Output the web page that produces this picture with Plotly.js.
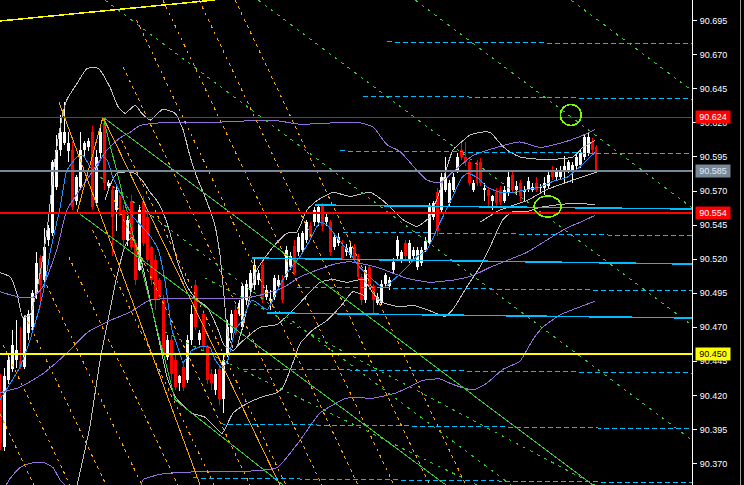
<!DOCTYPE html>
<html><head><meta charset="utf-8">
<script src="https://cdn.plot.ly/plotly-3.0.1.min.js"></script>
<style>html,body{margin:0;padding:0;background:#000;}#chart{width:744px;height:485px;}
#chart svg path{shape-rendering:crispEdges;}</style>
</head><body><div id="chart"></div>
<script>
// ---------- candle data (bar index 0..150) ----------
const opens = [90.419,90.382,90.431,90.439,90.446,90.445,90.441,90.466,90.470,90.495,
90.521,90.505,90.534,90.539,90.573,90.600,90.605,90.599,90.600,90.563,
90.573,90.600,90.602,90.613,90.561,90.598,90.620,90.574,90.571,90.556,
90.566,90.556,90.534,90.563,90.532,90.512,90.563,90.551,90.529,90.519,
90.505,90.490,90.448,90.461,90.446,90.429,90.441,90.431,90.461,90.501,
90.461,90.480,90.456,90.436,90.424,90.439,90.417,90.451,90.466,90.483,
90.480,90.470,90.490,90.497,90.501,90.505,90.516,90.492,90.489,90.492,
90.500,90.505,90.507,90.514,90.530,90.525,90.527,90.534,90.544,90.547,
90.547,90.560,90.547,90.547,90.529,90.532,90.530,90.525,90.523,90.529,
90.522,90.507,90.490,90.514,90.500,90.488,90.488,90.502,90.500,90.512,
90.522,90.519,90.532,90.519,90.522,90.514,90.517,90.527,90.532,90.551,
90.569,90.556,90.571,90.561,90.571,90.585,90.600,90.595,90.591,90.571,
90.591,90.591,90.571,90.571,90.563,90.569,90.571,90.563,90.569,90.582,
90.571,90.576,90.569,90.571,90.571,90.576,90.572,90.572,90.574,90.585,
90.580,90.580,90.585,90.585,90.584,90.588,90.589,90.595,90.598,90.606,
90.602];
const highs = [90.436,90.440,90.450,90.468,90.475,90.470,90.479,90.483,90.497,90.525,
90.523,90.543,90.545,90.593,90.611,90.626,90.635,90.613,90.607,90.582,
90.613,90.607,90.609,90.618,90.600,90.618,90.624,90.578,90.574,90.574,
90.567,90.560,90.552,90.567,90.534,90.560,90.566,90.555,90.530,90.523,
90.506,90.494,90.464,90.464,90.450,90.435,90.445,90.464,90.486,90.505,
90.468,90.483,90.457,90.439,90.439,90.442,90.450,90.475,90.483,90.486,
90.490,90.502,90.505,90.512,90.521,90.512,90.518,90.501,90.497,90.508,
90.508,90.508,90.530,90.525,90.534,90.539,90.541,90.549,90.547,90.558,
90.560,90.561,90.554,90.549,90.539,90.539,90.534,90.531,90.532,90.531,
90.524,90.509,90.515,90.516,90.502,90.495,90.505,90.510,90.507,90.521,
90.537,90.527,90.534,90.534,90.529,90.529,90.529,90.536,90.561,90.563,
90.572,90.583,90.595,90.578,90.583,90.598,90.605,90.606,90.593,90.578,
90.593,90.594,90.576,90.573,90.567,90.572,90.574,90.574,90.584,90.585,
90.577,90.578,90.574,90.580,90.576,90.580,90.575,90.580,90.585,90.588,
90.587,90.588,90.596,90.593,90.591,90.598,90.600,90.612,90.613,90.609,
90.604];
const lows = [90.380,90.379,90.428,90.437,90.440,90.439,90.439,90.461,90.468,90.491,
90.485,90.501,90.530,90.537,90.571,90.596,90.604,90.591,90.556,90.560,
90.571,90.596,90.599,90.556,90.559,90.594,90.571,90.571,90.522,90.541,
90.552,90.527,90.530,90.527,90.501,90.511,90.530,90.518,90.501,90.483,
90.490,90.450,90.446,90.431,90.424,90.423,90.423,90.429,90.457,90.468,
90.457,90.453,90.428,90.424,90.420,90.413,90.407,90.448,90.461,90.464,
90.478,90.468,90.486,90.495,90.497,90.501,90.488,90.490,90.483,90.490,
90.497,90.488,90.505,90.512,90.508,90.522,90.525,90.532,90.534,90.544,
90.544,90.541,90.544,90.522,90.527,90.530,90.519,90.522,90.521,90.517,
90.505,90.486,90.488,90.497,90.480,90.486,90.486,90.500,90.497,90.510,
90.519,90.517,90.519,90.517,90.519,90.512,90.515,90.525,90.530,90.549,
90.537,90.554,90.569,90.559,90.569,90.583,90.593,90.588,90.574,90.569,
90.574,90.574,90.563,90.559,90.556,90.559,90.560,90.561,90.566,90.569,
90.567,90.563,90.563,90.569,90.569,90.569,90.569,90.567,90.572,90.578,
90.577,90.578,90.576,90.583,90.576,90.585,90.587,90.593,90.596,90.598,
90.584];
const closes = [90.385,90.434,90.446,90.457,90.453,90.441,90.477,90.480,90.495,90.517,
90.501,90.529,90.543,90.591,90.600,90.613,90.613,90.605,90.558,90.580,
90.600,90.605,90.607,90.558,90.595,90.613,90.576,90.576,90.551,90.571,
90.554,90.534,90.549,90.529,90.505,90.556,90.532,90.519,90.505,90.490,
90.492,90.451,90.461,90.436,90.426,90.434,90.426,90.461,90.480,90.470,
90.466,90.456,90.431,90.429,90.436,90.417,90.446,90.470,90.480,90.466,
90.488,90.500,90.502,90.510,90.516,90.510,90.490,90.497,90.491,90.506,
90.505,90.490,90.527,90.522,90.510,90.536,90.539,90.547,90.536,90.556,
90.558,90.544,90.551,90.525,90.536,90.536,90.521,90.528,90.529,90.519,
90.507,90.490,90.512,90.500,90.490,90.492,90.502,90.508,90.505,90.518,
90.534,90.525,90.522,90.532,90.527,90.527,90.527,90.533,90.558,90.561,
90.541,90.580,90.580,90.576,90.580,90.595,90.595,90.591,90.576,90.576,
90.576,90.576,90.572,90.566,90.566,90.561,90.562,90.571,90.580,90.571,
90.574,90.566,90.571,90.577,90.573,90.571,90.573,90.576,90.582,90.580,
90.584,90.585,90.588,90.591,90.589,90.595,90.598,90.610,90.610,90.600,
90.585];

// ---------- indicator curves (x = bar index) ----------
const blueMaX = [-0.25,4.8,8.1,10.6,12.4,14.9,16.6,19.2,20.7,22.4,23.7,25.5,26.7,28.2,30.0,32.0,33.3,35.5,37.6,39.6,41.3,43.1,45.1,45.9,48.1,50.7,52.7,54.0,55.7,57.2,59.0,60.8,63.3,67.1,69.6,72.1,75.4,77.9,80.4,82.2,84.7,87.2,90.5,93.0,96.3,99.8,102.3,104.9,107.4,110.7,113.9,116.2,117.7,120.0,122.5,125.8,129.1,132.6,135.9,139.1,142.7,146.0,148.5,149.7];
const blueMaY = [90.417,90.441,90.468,90.495,90.525,90.558,90.585,90.595,90.596,90.588,90.584,90.595,90.593,90.580,90.569,90.558,90.551,90.544,90.537,90.527,90.505,90.468,90.451,90.444,90.453,90.456,90.455,90.446,90.440,90.446,90.468,90.475,90.490,90.483,90.497,90.510,90.522,90.534,90.547,90.545,90.536,90.527,90.514,90.507,90.499,90.507,90.514,90.522,90.527,90.547,90.566,90.580,90.583,90.580,90.573,90.569,90.569,90.571,90.573,90.577,90.580,90.588,90.595,90.598];

const purpleUpX = [-0.25,4.8,8.1,10.6,14.1,16.6,19.9,23.2,26.7,30.0,32.5,35.0,40.1,50.2,58.5,68.6,75.4,83.7,90.5,93.8,97.3,100.6,104.9,107.4,110.7,113.9,119.0,125.0,130.8,135.9,140.9,146.0,149.7];
const purpleUpY = [90.496,90.492,90.492,90.500,90.527,90.556,90.571,90.585,90.600,90.609,90.613,90.618,90.620,90.620,90.621,90.622,90.619,90.620,90.620,90.617,90.604,90.599,90.585,90.578,90.576,90.584,90.596,90.602,90.606,90.602,90.605,90.610,90.615];
const purpleMidX = [-0.25,4.8,10.6,16.6,21.7,27.5,32.5,37.6,43.9,50.2,58.5,62.8,67.1,71.1,75.4,79.7,83.7,88.0,94.8,102.3,108.1,114.9,119.0,123.3,127.6,132.6,137.6,142.7,146.0,149.7];
const purpleMidY = [90.422,90.426,90.436,90.451,90.466,90.475,90.481,90.490,90.491,90.491,90.491,90.492,90.495,90.499,90.507,90.512,90.516,90.518,90.514,90.506,90.503,90.505,90.508,90.514,90.519,90.525,90.534,90.543,90.547,90.552];
const purpleLowX = [0.5,2.3,4.8,7.3,10.6,13.1,14.9,19.7,30.0,35.0,35.8,40.1,50.2,60.2,69.6,75.4,80.4,87.2,93.8,99.8,106.4,110.7,113.9,119.0,122.5,126.5,130.8,134.1,136.6,140.9,146.0,149.7];
const purpleLowY = [90.350,90.359,90.367,90.370,90.371,90.367,90.358,90.345,90.345,90.352,90.358,90.362,90.364,90.364,90.367,90.387,90.407,90.418,90.418,90.422,90.431,90.432,90.428,90.424,90.429,90.439,90.445,90.461,90.470,90.479,90.485,90.489];

const greyUpX = [-0.25,2.3,4.0,5.5,7.3,9.3,11.6,13.6,15.4,16.6,19.2,21.7,24.5,27.5,29.5,31.3,33.8,35.5,37.6,40.8,43.9,45.9,47.6,49.4,51.4,53.9,55.2,56.2,57.2,58.5];
const greyUpY = [90.510,90.507,90.495,90.477,90.479,90.501,90.541,90.593,90.624,90.637,90.649,90.660,90.660,90.646,90.632,90.627,90.633,90.627,90.622,90.630,90.627,90.615,90.596,90.580,90.566,90.545,90.523,90.494,90.464,90.455];
const greyMidX = [26.2,27.5,29.2,31.8,33.8,35.8,37.6,39.3,41.3,43.1,44.4,46.9,49.4,51.9,54.5,56.2,58.5,60.2,65.3,69.6,75.4,80.4,83.7,87.2,91.3,93.8,96.3,100.6,103.9,107.4,111.9,113.9,117.5,120.7,123.3,126.5,129.1,132.6,135.9,144.2,149.7];
const greyMidY = [90.563,90.574,90.583,90.584,90.583,90.577,90.569,90.563,90.551,90.534,90.519,90.500,90.490,90.485,90.470,90.457,90.453,90.458,90.470,90.472,90.488,90.503,90.505,90.503,90.505,90.495,90.488,90.485,90.486,90.483,90.478,90.483,90.500,90.514,90.529,90.549,90.555,90.555,90.558,90.561,90.560];
const greyLowX = [19.2,22.4,25.0,27.5,29.2,31.3,33.0,35.0,37.6,40.1,42.1,44.4,48.1,51.4,53.9,55.7,58.5,62.0,66.0,69.6,71.1,73.6,75.4,78.6,82.2,85.5,88.7,91.8];
const greyLowY = [90.354,90.397,90.446,90.483,90.507,90.530,90.536,90.523,90.490,90.457,90.431,90.417,90.407,90.404,90.397,90.392,90.407,90.414,90.419,90.422,90.426,90.444,90.458,90.468,90.475,90.485,90.496,90.493];
const greyUp2X = [59.7,62.0,64.5,68.6,72.1,74.6,77.1,79.7,83.7,88.0,93.0,96.3,98.8,101.3,104.9,108.1,110.7,113.9,115.7,118.2,120.7,123.3,125.8,127.6,130.8,137.6,144.2,146.7,149.7];
const greyUp2Y = [90.457,90.483,90.512,90.529,90.539,90.540,90.556,90.563,90.569,90.566,90.569,90.563,90.556,90.549,90.544,90.551,90.571,90.600,90.605,90.611,90.613,90.613,90.605,90.600,90.595,90.593,90.595,90.602,90.607];
const greyLow2X = [120.7,125.8,132.6,137.6,144.2,150.2];
const greyLow2Y = [90.547,90.556,90.563,90.571,90.578,90.584];

// ---------- drawn objects: [x0, price0, x1, price1] ----------
const levelPrices = [90.624, 90.585, 90.554, 90.450];
const levelLabels = ["90.624", "90.585", "90.554", "90.450"];
const yellowTrend = [[-0.25,90.6948,54.0,90.7102]];
const orangeDotted = [
 [59.0,90.7102,117.2,90.3542],[49.9,90.7102,108.1,90.3542],[40.8,90.7102,99.1,90.3542],
 [34.2,90.6955,90.0,90.3542],[30.8,90.6610,80.9,90.3542],[30.4,90.6074,71.8,90.3542],
 [28.5,90.5634,62.8,90.3542],[23.1,90.5414,53.7,90.3542],[17.1,90.5216,44.6,90.3542],
 [11.5,90.5010,35.5,90.3542],[6.0,90.4790,26.5,90.3542],[0.5,90.4570,17.4,90.3542],
 [-0.25,90.4063,8.3,90.3542]];
const greenDotted = [
 [143.7,90.7102,174.2,90.6436],[104.4,90.7102,174.2,90.5577],[64.8,90.7102,174.2,90.4713],
 [26.2,90.7102,174.2,90.3872],[25.0,90.5803,128.6,90.3542],[41.3,90.4665,120.0,90.3542],
 [51.4,90.5062,149.7,90.3542]];
const orangeSolid = [[14.6,90.6353,50.2,90.3542],[25.7,90.6243,70.3,90.3542],[19.2,90.5546,25.7,90.6243]];
const greenSolid = [[25.7,90.6243,149.2,90.3542],[25.7,90.6243,43.9,90.4166],[43.9,90.4166,71.1,90.3542],[19.2,90.5546,112.2,90.3542]];
const cyanDashed = [
 [97.3,90.6794,174.2,90.6779],[91.3,90.6397,174.2,90.6375],[85.5,90.5994,174.2,90.5972],
 [86.2,90.5399,174.2,90.5370],[74.6,90.4995,174.2,90.4966],[61.0,90.4393,174.2,90.4364],
 [55.2,90.3990,174.2,90.3953],[48.4,90.3594,174.2,90.3557]];
const cyanSolid = [[79.2,90.5597,174.2,90.5568],[63.3,90.5208,174.2,90.5164],[67.1,90.4805,174.2,90.4768]];
const ellipses = [[141.0,90.6335,146.3,90.6181],[134.4,90.5663,141.2,90.5509]];

const tickVals = [90.370,90.395,90.420,90.445,90.470,90.495,90.520,90.545,90.570,90.595,90.620,90.645,90.670,90.695];
const tickText = ["90.370","90.395","90.420","90.445","90.470","90.495","90.520","90.545","90.570","90.595","90.620","90.645","90.670","90.695"];

// ---------- build ----------
const upX=[],upB=[],upH=[],dnX=[],dnB=[],dnH=[],upWX=[],upWY=[],dnWX=[],dnWY=[];
closes.forEach((c,i)=>{
  const o=opens[i], lo=Math.min(o,c), hi=Math.max(o,c), h=Math.max(hi-lo,0.0007);
  if (c>=o){upX.push(i);upB.push(lo);upH.push(h);upWX.push(i,i,null);upWY.push(lows[i],highs[i],null);}
  else {dnX.push(i);dnB.push(lo);dnH.push(h);dnWX.push(i,i,null);dnWY.push(lows[i],highs[i],null);}
});
const line=(x,y,color)=>({x,y,type:'scatter',mode:'lines',line:{color,width:1,shape:'spline',smoothing:0.5},hoverinfo:'skip'});
const traces=[
 {x:upWX,y:upWY,type:'scatter',mode:'lines',line:{color:'#ffffff',width:1},hoverinfo:'skip'},
 {x:dnWX,y:dnWY,type:'scatter',mode:'lines',line:{color:'#ff0000',width:1},hoverinfo:'skip'},
 {x:upX,y:upH,base:upB,type:'bar',width:0.75,marker:{color:'#ffffff',line:{width:0}},hoverinfo:'skip'},
 {x:dnX,y:dnH,base:dnB,type:'bar',width:0.75,marker:{color:'#ff0000',line:{width:0}},hoverinfo:'skip'},
 line(greyUpX,greyUpY,'#c0c0c0'), line(greyMidX,greyMidY,'#c0c0c0'), line(greyLowX,greyLowY,'#c0c0c0'),
 line(greyUp2X,greyUp2Y,'#c0c0c0'), line(greyLow2X,greyLow2Y,'#c0c0c0'),
 line(purpleUpX,purpleUpY,'#9370db'), line(purpleMidX,purpleMidY,'#9370db'), line(purpleLowX,purpleLowY,'#9370db'),
 line(blueMaX,blueMaY,'#1e90ff')
];
const shapes=[];
const seg=(arr,color,width,dash)=>arr.forEach(s=>shapes.push({type:'line',xref:'x',yref:'y',x0:s[0],y0:s[1],x1:s[2],y1:s[3],line:{color,width,dash}}));
seg(orangeDotted,'#ffa500',1,'3px,4px');
seg(greenDotted,'#32cd32',1,'3px,5px');
seg(orangeSolid,'#ffa500',1,'solid');
seg(greenSolid,'#32cd32',1,'solid');
seg(cyanDashed,'#00bfff',1,'5px,3px');
seg(cyanSolid,'#00bfff',1.5,'solid');
seg(yellowTrend,'#ffff00',1.5,'solid');
const levelStyle=[{c:'#ff0000',w:1,bg:'#ff0000',fc:'#ffffff'},{c:'#778899',w:2,bg:'#778899',fc:'#e6ebf0'},{c:'#ff0000',w:2,bg:'#ff0000',fc:'#ffffff'},{c:'#ffff00',w:2,bg:'#ffff00',fc:'#000000'}];
levelPrices.forEach((p,k)=>shapes.push({type:'line',xref:'paper',yref:'y',x0:0,x1:1,y0:p,y1:p,line:{color:levelStyle[k].c,width:levelStyle[k].w}}));
ellipses.forEach(e=>shapes.push({type:'circle',xref:'x',yref:'y',x0:e[0],y0:e[1],x1:e[2],y1:e[3],line:{color:'#7cfc00',width:1.5}}));
shapes.push({type:'line',xref:'paper',yref:'paper',x0:740.5/692,x1:740.5/692,y0:0,y1:1,line:{color:'#a0a0a0',width:1}});
const annotations=levelPrices.map((p,k)=>({xref:'paper',yref:'y',x:1+3/692,y:p,xanchor:'left',yanchor:'middle',text:levelLabels[k],showarrow:false,
  bgcolor:levelStyle[k].bg,font:{color:levelStyle[k].fc,size:9,family:'Liberation Sans, Arial, sans-serif'},width:32,height:10,borderpad:1,align:'center'}));
const layout={
  width:744,height:485,paper_bgcolor:'#000',plot_bgcolor:'#000',showlegend:false,barmode:'overlay',
  margin:{l:0,r:52,t:0,b:0},
  xaxis:{range:[-0.25,174.2],visible:false,showgrid:false,zeroline:false},
  yaxis:{side:'right',range:[90.3542,90.7102],tickvals:tickVals,ticktext:tickText,ticks:'outside',ticklen:4,tickcolor:'#ffffff',
    showline:true,linecolor:'#ffffff',linewidth:1,showgrid:false,zeroline:false,ticklabelstandoff:1,
    tickfont:{color:'#ffffff',size:9,family:'Liberation Sans, Arial, sans-serif'}},
  shapes,annotations,hovermode:false
};
Plotly.newPlot('chart',traces,layout,{staticPlot:true,displayModeBar:false});
</script></body></html>
